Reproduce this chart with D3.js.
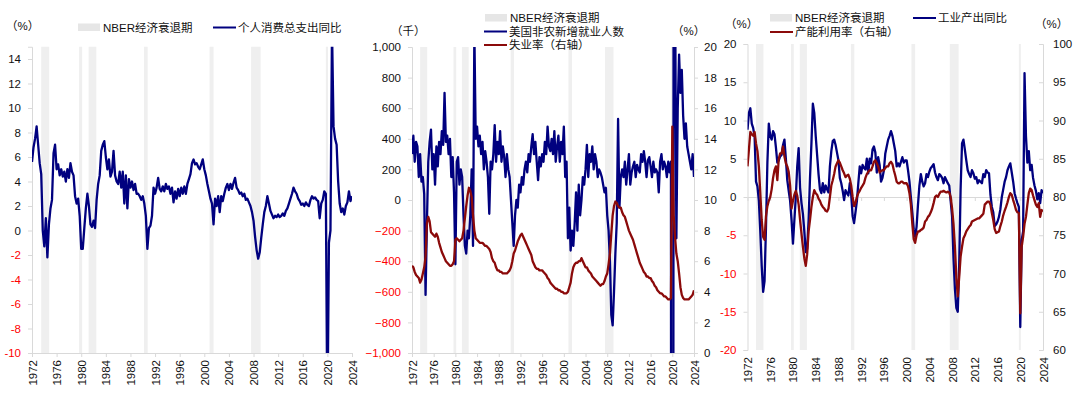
<!DOCTYPE html>
<html><head><meta charset="utf-8">
<script src="https://cdn.jsdelivr.net/npm/d3@7"></script>
<style>
body{margin:0;background:#fff;}
svg{display:block;font-family:"Liberation Sans",Arial,"Noto Sans CJK SC",sans-serif;}
</style></head><body>
<svg id="c" width="1080" height="398"></svg>
<script>
// ---------- DATA (quarterly, starting 1972Q1 in the chart's axis years) ----------
const START_YEAR = 1972;
const xTickYears = [1972,1976,1980,1984,1988,1992,1996,2000,2004,2008,2012,2016,2020,2024];
const recessionStart = [1973.5, 1979.65, 1981.2, 1990.2, 2000.85, 2007.6, 2019.75];
const recessionEnd   = [1974.8, 1980.15, 1982.45, 1990.8, 2001.5, 2009.15, 2020.1];

const pceTicks = [-10,-8,-6,-4,-2,0,2,4,6,8,10,12,14];
const payrollTicks = [-1000,-800,-600,-400,-200,0,200,400,600,800,1000];
const urTicks = [0,2,4,6,8,10,12,14,16,18,20];
const ipTicks = [-20,-15,-10,-5,0,5,10,15,20];
const cuTicks = [60,65,70,75,80,85,90,95,100];

// 个人消费总支出同比 (%)
const pceYoY = [
 5.6,6.8,7.5,8.5, 7.0,5.5,4.6,0.0, -1.3,1.0,-2.2,0.5, 1.8,2.5,6.3,7.0,
 5.0,5.4,4.5,5.0, 4.4,4.8,4.0,5.0, 4.3,5.5,4.8,4.5, 2.8,2.2,2.6,1.2,
 -1.5,-1.5,0.2,1.8, 3.0,2.0,0.5,0.3, 0.8,0.2,2.5,3.8, 4.5,6.5,7.0,7.3,
 6.0,5.0,5.8,4.4, 4.8,6.5,4.5,4.0, 3.8,4.8,3.5,4.8, 2.2,4.5,1.8,4.2,
 3.5,4.0,3.3,3.8, 3.0,3.0,2.8,2.5, 2.8,2.2,1.2,-1.5, 0.2,0.4,1.2,3.5,
 3.0,3.5,4.3,3.4, 3.2,3.6,3.2,3.8, 3.4,3.6,3.0,3.5, 2.3,3.2,2.6,3.4,
 2.8,3.5,3.0,3.6, 3.0,3.8,4.2,4.6, 5.5,5.8,5.4,5.5, 5.2,5.0,5.4,5.8,
 5.0,4.5,3.8,3.2, 2.6,2.2,0.5,2.6, 2.0,2.8,1.5,2.8, 2.4,3.0,3.5,3.8,
 3.3,3.8,3.4,3.9, 4.3,3.5,3.3,3.0, 3.1,2.8,3.0,2.5, 2.6,2.3,2.0,1.5,
 0.8,-0.5,-1.6,-2.3, -1.8,-0.6,0.5,1.5, 2.0,2.8,2.2,1.6, 1.3,1.0,1.2,1.1,
 1.3,1.1,1.2,1.4, 1.2,1.6,1.8,2.2, 2.6,3.0,3.5,3.2, 3.0,2.6,2.4,2.1,
 2.2,2.0,2.3,2.1, 2.0,2.5,2.8,2.6, 2.7,2.5,2.4,1.0, 2.2,2.5,3.2,3.0,
 -16.0,-1.0,0.0,16.5, 8.5,7.5,7.0,4.0, 2.2,1.5,1.8,1.3, 2.0,2.3,3.2,2.4,
 2.8
];

// 美国非农新增就业人数 (千)
const payrolls = [
 300,420,250,380, 350,150,300,120, 150,40,-620,-150, 250,380,460,200,
 300,100,350,220, 380,300,450,360, 700,380,420,300, 400,150,280,50,
 -420,250,280,100, 200,150,-100,-300, -350,-200,-250,-100, 200,-300,1100,400,
 480,350,420,300, 380,200,320,250, 150,-90,250,200, 300,490,250,380,
 300,450,250,350, 280,150,300,200, 150,0,-150,-300, -100,0,-50,100,
 50,150,100,200, 250,180,300,250, 350,430,300,380, 250,130,280,220,
 300,250,380,300, 480,350,320,400, 300,450,250,350, 420,250,380,300,
 480,150,250,-250, -50,-330,-200,-300, -150,50,-200,100, -100,0,150,100,
 200,360,150,300, 250,350,200,300, 250,150,200,180, 150,100,50,80,
 -100,-200,-400,-750, -820,-600,-350,-150, 530,-50,150,200, 150,250,100,200,
 300,100,180,220, 250,150,230,200, 180,300,250,320, 250,150,260,280,
 220,150,250,180, 200,180,50,250, 300,200,250,220, 150,250,180,250,
 -20000,3500,1500,-250, 600,950,700,850, 550,400,500,350, 300,250,200,300,
 150
];

// 失业率 (%，右轴)
const unemployment = [
 5.7,5.6,5.3,5.1, 5.0,4.9,4.6,4.8, 5.2,5.6,6.3,8.5, 8.9,8.6,7.9,7.8,
 7.7,7.6,7.8,7.6, 7.2,6.9,6.6,6.4, 6.2,6.0,5.9,5.8, 5.7,5.7,5.8,6.0,
 7.4,7.5,7.4,7.3, 7.4,7.5,8.0,8.8, 9.6,10.3,10.8,10.6, 10.2,9.0,8.0,7.5,
 7.4,7.3,7.2,7.2, 7.2,7.1,7.0,7.0, 6.9,6.8,6.6,6.2, 6.0,5.9,5.6,5.4,
 5.4,5.3,5.3,5.2, 5.2,5.2,5.2,5.3, 5.4,5.6,6.0,6.5, 6.7,7.0,7.3,7.5,
 7.7,7.8,7.6,7.4, 7.2,7.0,6.8,6.6, 6.4,6.0,5.8,5.6, 5.5,5.5,5.4,5.4,
 5.4,5.3,5.2,5.1, 4.9,4.8,4.6,4.5, 4.4,4.3,4.2,4.2, 4.1,4.1,4.0,4.0,
 3.9,3.9,3.9,4.0, 4.3,4.6,5.2,5.6, 5.8,5.9,5.9,6.0, 6.0,6.2,6.0,5.8,
 5.6,5.6,5.4,5.3, 5.2,5.0,4.9,4.8, 4.7,4.6,4.5,4.4, 4.5,4.5,4.7,5.0,
 5.2,5.8,6.5,7.8, 9.0,9.6,9.9,9.8, 9.6,9.5,9.5,9.2, 9.0,8.9,8.6,8.3,
 8.0,7.8,7.6,7.4, 7.1,6.8,6.5,6.2, 5.9,5.7,5.5,5.3, 5.2,5.0,5.0,4.9,
 4.9,4.7,4.6,4.4, 4.3,4.1,4.0,3.9, 3.9,3.8,3.7,3.7, 3.6,3.5,3.5,3.6,
 14.8,9.0,7.6,6.5, 6.0,5.2,4.3,3.8, 3.6,3.5,3.5,3.5, 3.5,3.6,3.7,3.8,
 4.1
];

// 工业产出同比 (%)
const ipYoY = [
 8.8,11.0,11.6,9.6, 9.0,7.9,2.0,1.4, -0.5,-4.5,-9.0,-12.4, -11.0,-4.0,4.5,9.6,
 8.0,7.5,8.6,8.2, 6.5,4.5,4.8,5.3, 5.5,6.8,7.5,5.0, 2.2,0.8,-0.5,-3.0,
 -6.1,-3.0,0.0,4.0, 6.4,1.2,-0.8,-2.2, -4.5,-7.2,-6.8,-3.0, 2.5,7.0,12.2,11.0,
 8.0,5.5,3.0,1.0, 0.5,1.8,0.6,1.5, 1.0,0.6,4.0,6.0, 7.3,7.5,6.8,5.8,
 4.8,2.5,1.8,0.8, -0.4,0.9,0.5,0.2, 1.8,0.3,-2.5,-3.4, -2.0,-0.5,1.8,4.0,
 3.1,4.2,3.8,3.6, 5.0,3.1,5.0,4.4, 6.2,6.6,5.8,3.2, 5.2,4.2,2.0,2.5,
 3.5,5.7,6.6,7.5, 8.0,8.6,8.0,7.0, 6.0,4.0,4.4,4.0, 4.6,5.2,4.5,4.8,
 4.8,3.5,2.0,0.0, -2.0,-4.2,-5.2,-3.9, -1.0,1.5,3.0,2.0, 1.4,1.8,3.0,2.6,
 3.3,3.8,4.0,4.3, 3.2,2.6,2.2,3.0, 2.8,2.5,1.8,2.6, 2.2,1.8,1.5,-0.5,
 -2.5,-8.0,-12.0,-14.5, -15.0,-9.0,1.0,7.0, 7.5,6.2,4.8,3.5, 3.0,2.6,3.5,3.1,
 2.4,2.6,1.8,2.2, 2.0,1.8,3.0,2.6, 3.5,3.2,3.1,0.3, -1.3,-2.0,-3.8,-3.6,
 -3.2,-2.6,-1.6,0.0, 1.0,2.0,2.6,3.5, 4.0,4.4,3.2,2.0, 0.5,-0.2,-0.8,-1.3,
 -17.0,-5.6,-4.5,16.2, 8.0,4.5,6.0,3.5, 4.2,2.5,1.5,0.8, -0.3,0.5,-0.8,0.9,
 0.5
];

// 产能利用率 (%，右轴)
const capUtil = [
 84.0,86.2,88.5,88.2, 88.0,88.5,87.0,86.0, 84.0,80.5,77.0,74.8, 74.4,77.5,78.8,79.5,
 80.0,81.0,82.5,83.5, 84.0,82.2,85.0,85.7, 85.7,86.6,85.3,84.4, 84.0,83.3,81.5,78.5,
 79.5,80.3,80.8,80.2, 79.0,77.0,75.2,73.5, 72.0,71.0,72.5,75.5, 77.0,78.7,80.0,80.9,
 80.5,80.3,79.8,79.5, 79.0,78.7,78.5,78.2, 78.1,78.5,80.0,81.5, 82.2,83.0,84.0,84.4,
 84.8,84.5,84.0,83.5, 83.1,82.6,82.8,82.9, 82.4,81.5,80.0,78.8, 79.2,80.0,80.5,80.8,
 81.2,81.5,81.8,82.5, 83.0,83.3,83.5,83.5, 84.0,84.6,84.8,84.4, 84.0,83.2,83.4,83.5,
 83.5,83.8,84.0,84.0, 84.4,84.6,84.3,83.5, 82.8,82.0,81.8,81.8, 82.0,82.0,81.8,81.8,
 81.8,81.4,80.5,79.0, 76.5,74.5,74.0,75.0, 75.5,75.5,75.7,75.8, 76.0,76.8,77.0,77.4,
 77.6,78.0,78.5,79.2, 80.0,80.2,80.0,80.4, 80.7,80.7,80.8,80.7, 80.6,80.7,80.6,80.0,
 78.5,76.5,73.5,69.5, 67.0,69.5,72.2,73.5, 74.6,75.0,75.5,75.8, 76.1,76.3,76.8,76.9,
 77.0,77.1,77.2,77.2, 77.4,77.6,77.8,79.0, 79.2,79.4,79.4,79.0, 77.9,77.0,75.8,75.3,
 75.4,75.5,76.2,76.8, 77.6,78.2,78.7,79.3, 80.0,80.5,80.3,79.6, 79.0,78.3,78.0,77.9,
 64.8,73.5,74.8,76.5, 77.4,79.0,80.5,81.1, 80.9,80.2,79.6,79.0, 78.7,79.2,77.4,78.3,
 78.1
];

// ---------- STYLE ----------
const FS = 11.5;
const BLUE = "#00007f", RED = "#8b0a0a", AXIS = "#d9d9d9", BAND = "#efefef",
      LEGBAND = "#e6e6e6", NEG = "#ff0000", TXT = "#111";
const svg = d3.select("#c");
const toSeries = arr => arr.map((v, i) => ({ t: START_YEAR + i / 4, v }));
let clipId = 0;

function styleAxis(g, negRed) {
  g.select(".domain").attr("stroke", AXIS);
  g.selectAll(".tick line").attr("stroke", AXIS);
  g.selectAll(".tick text").attr("font-size", FS)
    .attr("font-family", '"Liberation Sans", Arial, sans-serif')
    .attr("fill", d => (negRed && d < 0) ? NEG : TXT);
}

function panel(cfg) {
  const x = d3.scaleLinear().domain([1972, 2024]).range([cfg.x0, cfg.x1]);
  const y = d3.scaleLinear().domain(cfg.yDomain).range([cfg.yBot, cfg.yTop]);
  const y2 = cfg.y2Domain ? d3.scaleLinear().domain(cfg.y2Domain).range([cfg.yBot, cfg.yTop]) : null;
  const g = svg.append("g");

  g.selectAll("rect.band").data(recessionStart.map((s, i) => [s, recessionEnd[i]]))
    .join("rect").attr("class", "band")
    .attr("x", d => x(d[0])).attr("width", d => x(d[1]) - x(d[0]))
    .attr("y", cfg.yTop).attr("height", cfg.yBot - cfg.yTop)
    .attr("fill", BAND);

  const ga = g.append("g").attr("transform", `translate(${cfg.x0},0)`)
    .call(d3.axisLeft(y).tickValues(cfg.yTicks).tickSize(4).tickPadding(7)
      .tickFormat(cfg.yFormat || (d => d)));
  styleAxis(ga, true);

  if (y2) {
    const gr = g.append("g").attr("transform", `translate(${cfg.x1},0)`)
      .call(d3.axisRight(y2).tickValues(cfg.y2Ticks).tickSize(cfg.rightTick).tickPadding(cfg.rightPad));
    styleAxis(gr, false);
  }

  const xAxisY = cfg.xAxisAtZero ? y(0) : cfg.yBot;
  const gx = g.append("g").attr("transform", `translate(0,${xAxisY})`)
    .call(d3.axisBottom(x).tickValues(xTickYears).tickSize(4).tickSizeOuter(0)
      .tickFormat(cfg.xAxisAtZero ? "" : d3.format("d")));
  styleAxis(gx, false);
  let labelAxis = gx;
  if (cfg.xAxisAtZero) {
    labelAxis = g.append("g").attr("transform", `translate(0,${cfg.yBot})`)
      .call(d3.axisBottom(x).tickValues(xTickYears).tickSize(0).tickFormat(d3.format("d")));
    labelAxis.select(".domain").remove();
    styleAxis(labelAxis, false);
  }
  labelAxis.selectAll(".tick text").attr("transform", "rotate(-90)")
    .attr("text-anchor", "end").attr("x", -7).attr("y", 0).attr("dy", "0.35em");

  const id = "clip" + (clipId++);
  svg.append("defs").append("clipPath").attr("id", id).append("rect")
    .attr("x", cfg.x0).attr("y", cfg.yTop).attr("width", cfg.x1 - cfg.x0).attr("height", cfg.yBot - cfg.yTop);

  const lines = g.append("g").attr("clip-path", `url(#${id})`);
  cfg.series.forEach(s => {
    const sc = s.right ? y2 : y;
    lines.append("path").datum(toSeries(s.data))
      .attr("fill", "none").attr("stroke", s.color).attr("stroke-width", 2.3)
      .attr("stroke-linejoin", "round")
      .attr("d", d3.line().x(d => x(d.t)).y(d => sc(d.v)));
  });

  cfg.units.forEach(u => {
    g.append("text").attr("x", u.x).attr("y", u.y).attr("font-size", FS).attr("fill", TXT).text(u.text);
  });

  cfg.legend.forEach(L => {
    if (L.type === "band") {
      g.append("rect").attr("x", L.x).attr("y", L.y - 4).attr("width", 22).attr("height", 7.5).attr("fill", LEGBAND);
    } else {
      g.append("line").attr("x1", L.x).attr("x2", L.x + 23).attr("y1", L.y).attr("y2", L.y)
        .attr("stroke", L.color).attr("stroke-width", 2);
    }
    g.append("text").attr("x", L.x + 25).attr("y", L.y + 4).attr("font-size", FS).attr("fill", TXT).text(L.text);
  });
}

panel({
  x0: 32, x1: 352, yTop: 46.75, yBot: 353, yDomain: [-10, 15], yTicks: pceTicks,
  series: [{ data: pceYoY, color: BLUE }],
  units: [{ x: 6, y: 30, text: "（%）" }],
  legend: [
    { type: "band", x: 78, y: 27.5, text: "NBER经济衰退期" },
    { type: "line", x: 213, y: 27.5, color: BLUE, text: "个人消费总支出同比" }
  ]
});

panel({
  x0: 412, x1: 694, yTop: 47, yBot: 353, yDomain: [-1000, 1000], yTicks: payrollTicks,
  yFormat: d3.format(","),
  y2Domain: [0, 20], y2Ticks: urTicks, rightTick: 4, rightPad: 6,
  series: [{ data: payrolls, color: BLUE }, { data: unemployment, color: RED, right: true }],
  units: [{ x: 391, y: 35, text: "（千）" }, { x: 672, y: 35, text: "（%）" }],
  legend: [
    { type: "band", x: 485, y: 18, text: "NBER经济衰退期" },
    { type: "line", x: 484, y: 31.5, color: BLUE, text: "美国非农新增就业人数" },
    { type: "line", x: 484, y: 45, color: RED, text: "失业率（右轴）" }
  ]
});

panel({
  x0: 747.5, x1: 1043, yTop: 44, yBot: 350, yDomain: [-20, 20], yTicks: ipTicks,
  y2Domain: [60, 100], y2Ticks: cuTicks, rightTick: -4, rightPad: 10,
  xAxisAtZero: true,
  series: [{ data: ipYoY, color: BLUE }, { data: capUtil, color: RED, right: true }],
  units: [{ x: 725, y: 28, text: "（%）" }, { x: 1035, y: 28, text: "（%）" }],
  legend: [
    { type: "band", x: 770, y: 18, text: "NBER经济衰退期" },
    { type: "line", x: 913, y: 18, color: BLUE, text: "工业产出同比" },
    { type: "line", x: 770, y: 32, color: RED, text: "产能利用率（右轴）" }
  ]
});
</script>
</body></html>
